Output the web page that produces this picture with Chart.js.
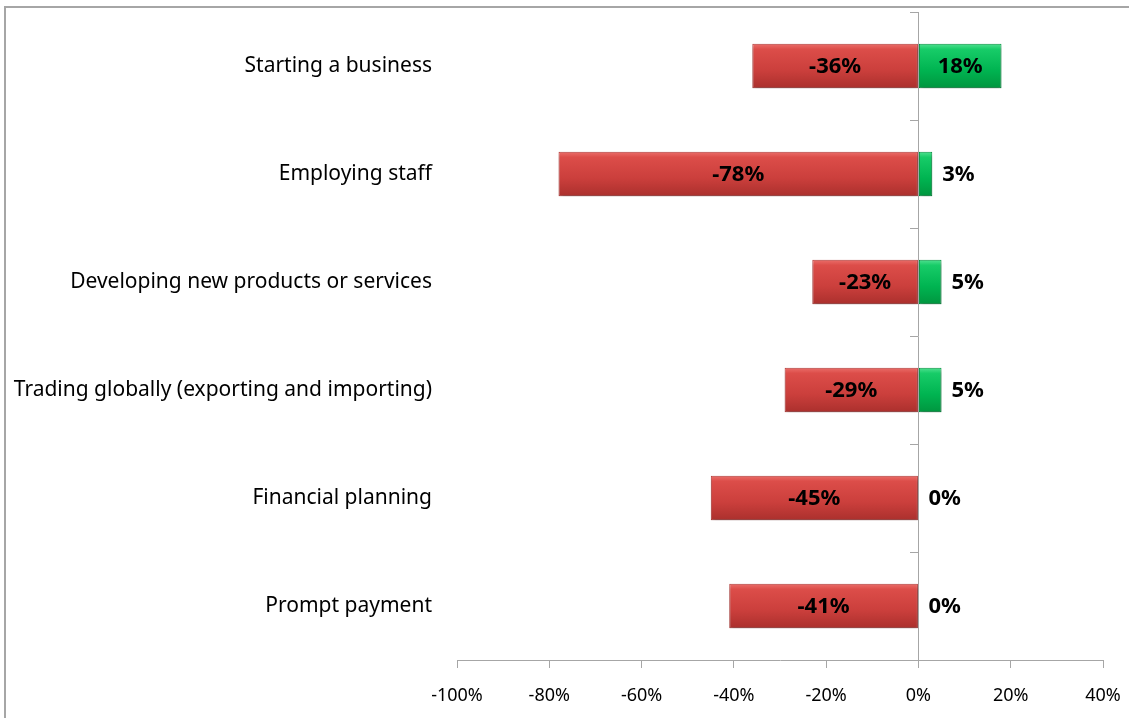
<!DOCTYPE html>
<html>
<head>
<meta charset="utf-8">
<script src="https://cdn.jsdelivr.net/npm/chart.js@4"></script>
<style>
  body { margin: 0; overflow: hidden; background: #fff; }
  #frame { position: absolute; left: 4px; top: 6px; width: 1300px; height: 900px;
           border-left: 2px solid #a6a6a6; border-top: 2px solid #a6a6a6; }
  #myChart { position: absolute; left: 0; top: 0; }
</style>
</head>
<body>
<div id="frame"></div>
<canvas id="myChart" width="1129" height="718"></canvas>
<script>
  const categories = [
    'Starting a business',
    'Employing staff',
    'Developing new products or services',
    'Trading globally (exporting and importing)',
    'Financial planning',
    'Prompt payment'
  ];
  const negativeValues = [-36, -78, -23, -29, -45, -41];
  const positiveValues = [18, 3, 5, 5, 0, 0];
  const xTicks = [-100, -80, -60, -40, -20, 0, 20, 40];

  const FONT = 'Noto Sans';
  const AXIS = '#a6a6a6';

  // vertical gradient per bar, to mimic the bevelled look
  function barFill(stops, flat) {
    return function (c) {
      const chart = c.chart;
      if (!chart.chartArea || !chart.scales.y) return flat;
      const y = chart.scales.y.getPixelForValue(c.dataIndex);
      const g = chart.ctx.createLinearGradient(0, y - 22, 0, y + 22);
      g.addColorStop(0, stops[0]);
      g.addColorStop(0.12, stops[1]);
      g.addColorStop(0.6, stops[2]);
      g.addColorStop(1, stops[3]);
      return g;
    };
  }

  const shadowPlugin = {
    id: 'barShadow',
    beforeDatasetsDraw(chart) {
      const ctx = chart.ctx;
      ctx.save();
      ctx.shadowColor = 'rgba(0,0,0,0.3)';
      ctx.shadowBlur = 4;
      ctx.shadowOffsetX = 1;
      ctx.shadowOffsetY = 3;
    },
    afterDatasetsDraw(chart) {
      chart.ctx.restore();
    }
  };

  const valueLabels = {
    id: 'valueLabels',
    afterDatasetsDraw(chart) {
      const ctx = chart.ctx;
      ctx.save();
      ctx.font = 'bold 22px "' + FONT + '"';
      ctx.fillStyle = '#000';
      ctx.textBaseline = 'middle';
      chart.data.datasets.forEach((ds, di) => {
        const meta = chart.getDatasetMeta(di);
        meta.data.forEach((bar, i) => {
          const v = ds.data[i];
          const txt = v + '%';
          if (v < 0 || v >= 10) {
            ctx.textAlign = 'center';
            ctx.fillText(txt, (bar.x + bar.base) / 2, bar.y + 1);
          } else {
            ctx.textAlign = 'left';
            ctx.fillText(txt, bar.x + 10, bar.y + 1);
          }
        });
      });
      ctx.restore();
    }
  };

  const data = {
    labels: categories,
    datasets: [{
      label: 'Negative',
      data: negativeValues,
      backgroundColor: barFill(['#ea6d69', '#dc4d49', '#cb3f3c', '#ab302d'], '#cd403d'),
      borderColor: '#b33a37',
      borderWidth: 1,
      borderSkipped: false,
      categoryPercentage: 1,
      barPercentage: 0.41
    }, {
      label: 'Positive',
      data: positiveValues,
      backgroundColor: barFill(['#4fe08f', '#17cc68', '#00b451', '#00963f'], '#00b050'),
      borderColor: '#00923f',
      borderWidth: 1,
      borderSkipped: false,
      categoryPercentage: 1,
      barPercentage: 0.41
    }]
  };

  const config = {
    type: 'bar',
    data: data,
    options: {
      indexAxis: 'y',
      responsive: false,
      animation: false,
      layout: { padding: { left: 0, right: 26, top: 12, bottom: 13 } },
      plugins: { legend: { display: false }, tooltip: { enabled: false } },
      scales: {
        x: {
          min: -100,
          max: 40,
          afterBuildTicks(scale) { scale.ticks = xTicks.map(v => ({ value: v })); },
          ticks: {
            callback: v => v + '%',
            color: '#000',
            font: { family: FONT, size: 18 },
            padding: 17,
            maxRotation: 0
          },
          grid: { drawOnChartArea: false, color: AXIS, tickLength: 8 },
          border: { color: AXIS },
          afterFit(scale) {
            scale.height = 45;
            scale.paddingLeft = 0;
            scale.paddingRight = 0;
          }
        },
        y: {
          stacked: true,
          grid: { display: false, drawTicks: false },
          border: { display: false },
          ticks: { color: '#000', font: { family: FONT, size: 21 }, padding: 25 },
          afterFit(scale) {
            scale.width = 457;
            scale.paddingTop = 0;
            scale.paddingBottom = 0;
          }
        },
        y2: {
          type: 'category',
          labels: categories,
          position: { x: 0 },
          offset: true,
          z: 1,
          ticks: { display: false },
          grid: { drawOnChartArea: false, offset: true, color: AXIS, tickLength: 8 },
          border: { color: AXIS },
          afterFit(scale) {
            scale.paddingTop = 0;
            scale.paddingBottom = 0;
          }
        }
      }
    },
    plugins: [shadowPlugin, valueLabels]
  };

  const myChart = new Chart(document.getElementById('myChart'), config);
</script>
</body>
</html>
